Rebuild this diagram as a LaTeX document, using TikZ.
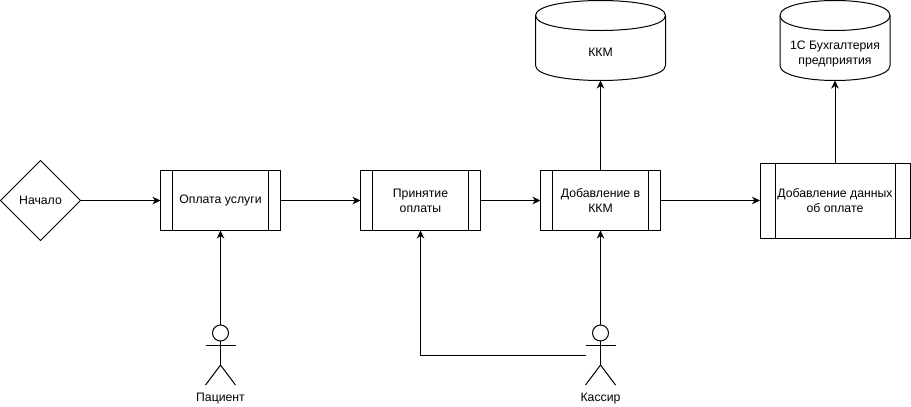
\documentclass[tikz,border=0pt]{standalone}
\usepackage{fontspec}
\setmainfont{Liberation Sans}
\usetikzlibrary{arrows.meta,calc,shapes.geometric}
\tikzset{
  x=1pt,y=-1pt,
  every node/.style={font=\fontsize{12.25}{15}\selectfont,text=black,align=center,inner sep=0pt,outer sep=0pt},
  edge/.style={draw=black,line width=1pt},
  flow/.style={edge,-{Stealth[length=8pt,width=7.5pt,inset=2.5pt]}},
  startbox/.style={diamond,draw=black,line width=1pt,minimum width=80pt,minimum height=80pt},
  procbox/.style={rectangle,draw=black,line width=1pt},
  cylframe/.style={rectangle,minimum width=#1,minimum height=80pt},
  actorframe/.style={rectangle,minimum width=30pt,minimum height=60pt},
  shapeline/.style={draw=black,line width=1pt},
}
% name, bar width
\newcommand{\procbars}[2]{%
  \draw[shapeline] ($(#1.north west)+(#2,0)$) -- ($(#1.south west)+(#2,0)$);
  \draw[shapeline] ($(#1.north east)+(-#2,0)$) -- ($(#1.south east)+(-#2,0)$);
}
% name
\newcommand{\cylshape}[1]{%
  \draw[shapeline]
    ($(#1.north west)+(0,15)$)
    .. controls ($(#1.north west)+(0,-5)$) and ($(#1.north east)+(0,-5)$) .. ($(#1.north east)+(0,15)$)
    -- ($(#1.south east)+(0,-15)$)
    .. controls ($(#1.south east)+(0,5)$) and ($(#1.south west)+(0,5)$) .. ($(#1.south west)+(0,-15)$)
    -- cycle;
  \draw[shapeline]
    ($(#1.north west)+(0,15)$)
    .. controls ($(#1.north west)+(0,35)$) and ($(#1.north east)+(0,35)$) .. ($(#1.north east)+(0,15)$);
}
% name
\newcommand{\actorshape}[1]{%
  \draw[shapeline] ($(#1.north)+(0,8)$) circle[radius=8pt];
  \draw[shapeline] ($(#1.north)+(0,16)$) -- ($(#1.north)+(0,40)$);
  \draw[shapeline] ($(#1.north west)+(0,20)$) -- ($(#1.north east)+(0,20)$);
  \draw[shapeline] (#1.south west) -- ($(#1.north)+(0,40)$) -- (#1.south east);
}
\begin{document}
\begin{tikzpicture}
\useasboundingbox (0,0) rectangle (911,407);

\node[startbox] (start) at (40.5,200.5) {Начало};

\node[procbox,minimum width=120pt,minimum height=60pt] (pay) at (220.5,200.5) {Оплата услуги};
\node[procbox,minimum width=120pt,minimum height=60pt] (accept) at (420.5,200.5) {Принятие\\оплаты};
\node[procbox,minimum width=120pt,minimum height=60pt] (addkkm) at (600.5,200.5) {Добавление в\\ККМ};
\node[procbox,minimum width=150pt,minimum height=75pt] (adddata) at (835,200.5) {Добавление данных\\об оплате};
\procbars{pay}{12}
\procbars{accept}{12}
\procbars{addkkm}{12}
\procbars{adddata}{15}

\node[cylframe=130pt] (kkm) at (600.5,40.5) {};
\cylshape{kkm}
\node (kkmtext) at (600.5,52.5) {ККМ};
\node[cylframe=110pt] (buh) at (835,40.5) {};
\cylshape{buh}
\node (buhtext) at (835,53.5) {1С Бухгалтерия\\предприятия};

\node[actorframe] (patient) at (220.5,355) {};
\actorshape{patient}
\node (patientlabel) at (220.5,398.5) {Пациент};
\node[actorframe] (cashier) at (600.5,355) {};
\actorshape{cashier}
\node (cashierlabel) at (600.5,398.5) {Кассир};

\draw[flow] (start.east) -- (pay.west);
\draw[flow] (pay.east) -- (accept.west);
\draw[flow] (accept.east) -- (addkkm.west);
\draw[flow] (addkkm.east) -- (adddata.west);
\draw[flow] (addkkm.north) -- (kkm.south);
\draw[flow] (adddata.north) -- (buh.south);
\draw[flow] (patient.north) -- (pay.south);
\draw[flow] (cashier.north) -- (addkkm.south);
\draw[flow] (cashier.west) -| (accept.south);
\end{tikzpicture}
\end{document}
